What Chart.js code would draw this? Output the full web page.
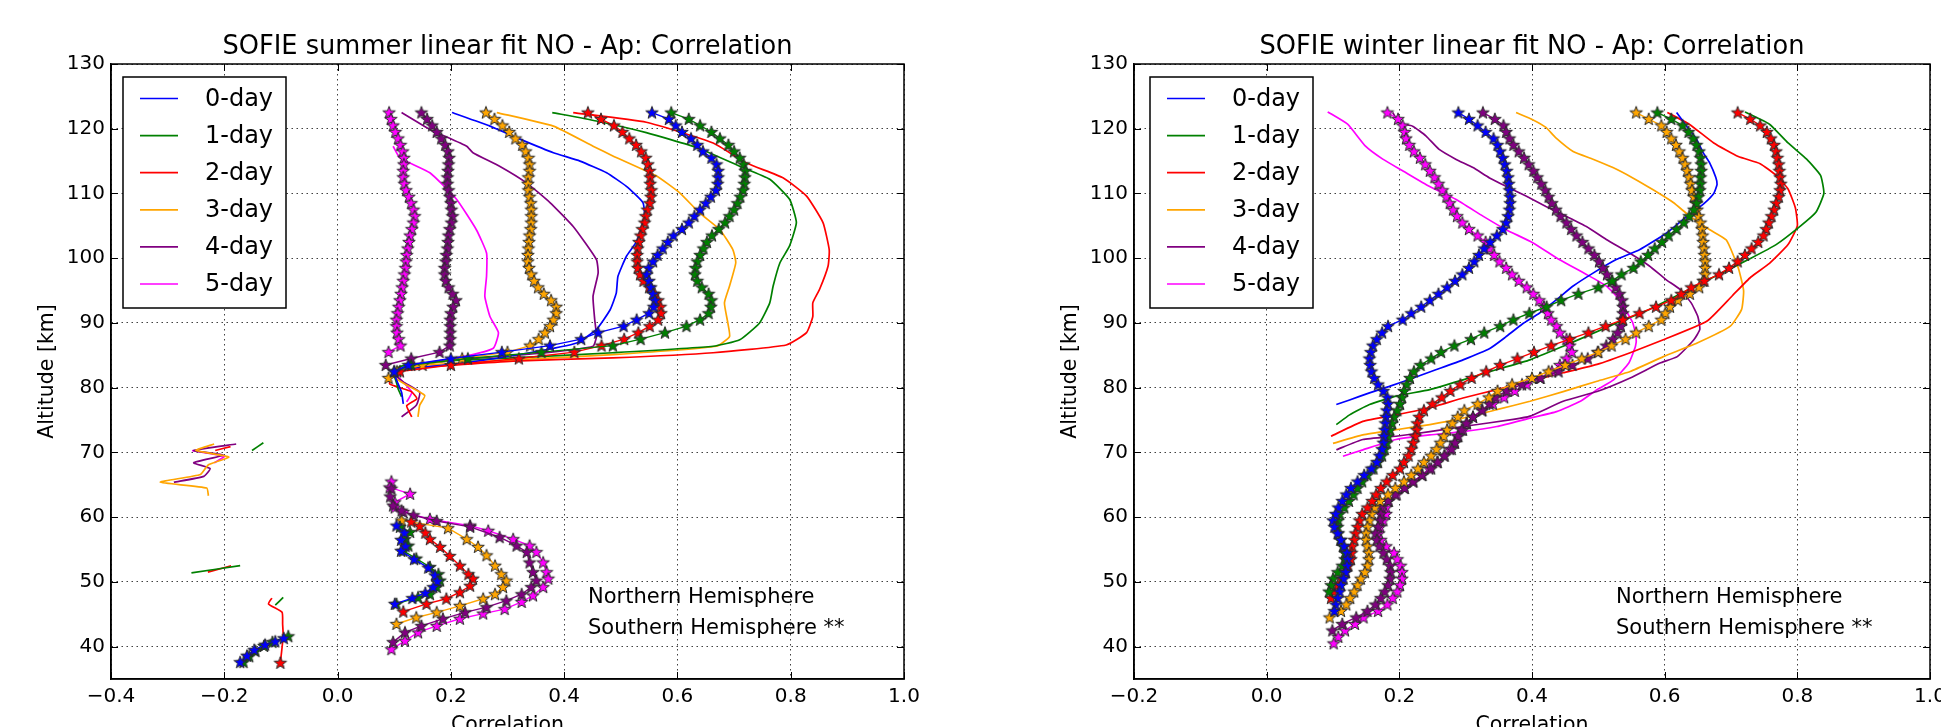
<!DOCTYPE html>
<html>
<head>
<meta charset="utf-8">
<script src="https://cdn.jsdelivr.net/npm/chart.js@4.4.1/dist/chart.umd.min.js"></script>
<style>
  html, body { margin: 0; padding: 0; background: #fff; overflow: hidden; }
  #wrap { position: relative; width: 1941px; height: 727px; overflow: hidden; }
  .panel { position: absolute; top: 0; }
</style>
</head>
<body>
<div id="wrap">
  <div class="panel" style="left:0px"><canvas id="summer" width="970" height="760"></canvas></div>
  <div class="panel" style="left:1023px"><canvas id="winter" width="948" height="760"></canvas></div>
</div>
<script>
// ---- labels / ticks ----
const dayLabels = ['0-day', '1-day', '2-day', '3-day', '4-day', '5-day'];
const dayColors = ['#0000ff', '#008000', '#ff0000', '#ffa500', '#800080', '#ff00ff'];
const altTicks = [40, 50, 60, 70, 80, 90, 100, 110, 120, 130];
const summerXTicks = [-0.4, -0.2, 0.0, 0.2, 0.4, 0.6, 0.8, 1.0];
const winterXTicks = [-0.2, 0.0, 0.2, 0.4, 0.6, 0.8, 1.0];

// ---- summer: Southern Hemisphere (stars), upper part, 1 km grid ----
const altSummer = [122.5, 121.5, 120.5, 119.5, 118.5, 117.5, 116.5, 115.5, 114.5, 113.5,
  112.5, 111.5, 110.5, 109.5, 108.5, 107.5, 106.5, 105.5, 104.5, 103.5,
  102.5, 101.5, 100.5, 99.5, 98.5, 97.5, 96.5, 95.5, 94.5, 93.5,
  92.5, 91.5, 90.5, 89.5, 88.5, 87.5, 86.5, 85.5, 84.5, 83.5,
  82.5, 81.5];
const sumStar0 = [0.555, 0.585, 0.597, 0.608, 0.624, 0.635, 0.645, 0.66, 0.669, 0.672,
  0.672, 0.671, 0.668, 0.659, 0.65, 0.64, 0.63, 0.62, 0.608, 0.593,
  0.583, 0.574, 0.565, 0.557, 0.549, 0.546, 0.55, 0.553, 0.557, 0.56,
  0.558, 0.55, 0.528, 0.505, 0.46, 0.43, 0.375, 0.29, 0.2, 0.125,
  0.1];
const sumStar1 = [0.589, 0.62, 0.64, 0.66, 0.675, 0.69, 0.70, 0.71, 0.717, 0.72,
  0.719, 0.718, 0.716, 0.711, 0.706, 0.70, 0.692, 0.684, 0.673, 0.661,
  0.652, 0.646, 0.64, 0.635, 0.632, 0.631, 0.635, 0.643, 0.655, 0.66,
  0.659, 0.655, 0.64, 0.616, 0.578, 0.535, 0.486, 0.36, 0.23, 0.13,
  0.1];
const sumStar2 = [0.442, 0.465, 0.488, 0.503, 0.515, 0.527, 0.536, 0.544, 0.548, 0.551,
  0.552, 0.552, 0.554, 0.553, 0.551, 0.547, 0.544, 0.542, 0.538, 0.535,
  0.532, 0.53, 0.529, 0.529, 0.53, 0.534, 0.54, 0.55, 0.56, 0.566,
  0.57, 0.571, 0.566, 0.551, 0.531, 0.506, 0.466, 0.418, 0.32, 0.2,
  0.11];
const sumStar3 = [0.262, 0.277, 0.291, 0.303, 0.314, 0.326, 0.332, 0.337, 0.339, 0.339,
  0.337, 0.336, 0.337, 0.339, 0.341, 0.342, 0.342, 0.342, 0.341, 0.339,
  0.338, 0.337, 0.336, 0.336, 0.338, 0.342, 0.347, 0.354, 0.364, 0.377,
  0.386, 0.386, 0.381, 0.375, 0.366, 0.355, 0.34, 0.30, 0.22, 0.15,
  0.105, 0.09];
const sumStar4 = [0.148, 0.158, 0.167, 0.175, 0.183, 0.19, 0.195, 0.197, 0.196, 0.195,
  0.194, 0.194, 0.196, 0.198, 0.2, 0.201, 0.203, 0.201, 0.198, 0.196,
  0.195, 0.194, 0.192, 0.191, 0.189, 0.189, 0.191, 0.196, 0.203, 0.209,
  0.204, 0.2, 0.199, 0.199, 0.199, 0.199, 0.198, 0.18, 0.13, 0.085];
const sumStar5 = [0.091, 0.094, 0.098, 0.102, 0.107, 0.111, 0.115, 0.117, 0.117, 0.116,
  0.116, 0.118, 0.121, 0.126, 0.13, 0.134, 0.136, 0.134, 0.131, 0.128,
  0.126, 0.124, 0.122, 0.121, 0.12, 0.118, 0.116, 0.114, 0.112, 0.11,
  0.108, 0.106, 0.104, 0.104, 0.105, 0.108, 0.111, 0.09];

// summer SH lower bulge, [correlation, altitude]
const sumLow0 = [[0.104, 58.7], [0.118, 57.6], [0.112, 56.5], [0.12, 55.5], [0.112, 54.8], [0.135, 53.5], [0.16, 52.2],
  [0.172, 51], [0.176, 50.1], [0.169, 49.2], [0.155, 48.3], [0.132, 47.5], [0.101, 46.6]];
const sumLow1 = [[0.11, 58.5], [0.128, 57.7], [0.119, 56.6], [0.125, 55.6], [0.116, 54.8], [0.139, 53.6], [0.163, 52.3],
  [0.178, 51.2], [0.181, 50.2], [0.175, 49.2], [0.163, 48.1], [0.142, 47.6], [0.104, 46.6]];
const sumLow2 = [[0.13, 59.3], [0.145, 58.6], [0.155, 57.6], [0.163, 56.6], [0.181, 55.4], [0.198, 54], [0.216, 52.5],
  [0.231, 51.2], [0.239, 50.5], [0.234, 49.4], [0.216, 48.4], [0.192, 47.4], [0.157, 46.6], [0.116, 45.4]];
const sumLow3 = [[0.113, 59.5], [0.195, 58.3], [0.228, 56.6], [0.248, 55.4], [0.263, 54.1], [0.278, 52.5], [0.289, 51.2],
  [0.298, 50.2], [0.292, 49.2], [0.278, 48.1], [0.257, 47.4], [0.216, 46.3], [0.175, 45.3], [0.139, 44.5], [0.104, 43.5]];
const sumLow4 = [[0.095, 64.4], [0.093, 63.2], [0.098, 61.8], [0.113, 61], [0.134, 60.3], [0.175, 59.4], [0.234, 58.5],
  [0.286, 56.9], [0.316, 55.6], [0.334, 54.6], [0.339, 53], [0.345, 51.5], [0.351, 50.2], [0.342, 49.2], [0.325, 48.1],
  [0.298, 47.1], [0.263, 46.1], [0.225, 45.3], [0.186, 44.3], [0.148, 43.2], [0.119, 42.2], [0.098, 40.7]];
const sumLow5 = [[0.095, 65.5], [0.092, 64.6], [0.128, 63.6], [0.101, 62.3], [0.101, 61.5], [0.116, 60.8], [0.163, 59.7],
  [0.234, 58.7], [0.266, 57.9], [0.31, 56.6], [0.339, 55.6], [0.351, 54.6], [0.363, 53], [0.369, 51.5], [0.372, 50.5],
  [0.363, 49.2], [0.345, 47.9], [0.325, 46.9], [0.295, 45.8], [0.257, 45.1], [0.216, 44.3], [0.175, 43.2], [0.142, 42.2],
  [0.119, 40.9], [0.095, 39.6]];
// summer SH bits near 40 km, negative correlation
const sumTail0 = [[-0.172, 37.6], [-0.16, 38.6], [-0.147, 39.5], [-0.128, 40.3], [-0.11, 40.8], [-0.095, 41.3]];
const sumTail1 = [[-0.166, 37.6], [-0.156, 38.5], [-0.145, 39.3], [-0.13, 40.1], [-0.115, 40.7], [-0.087, 41.6]];
const sumTail2 = [[-0.101, 37.5]];

// ---- summer: Northern Hemisphere (plain lines) ----
const sumNH0 = [[0.202, 122.5], [0.269, 120.4], [0.322, 118.4], [0.381, 116.3], [0.428, 115], [0.475, 113.2], [0.51, 111.1],
  [0.539, 108.6], [0.542, 106.5], [0.528, 102.6], [0.51, 100.3], [0.495, 97.2], [0.492, 94.6], [0.481, 92], [0.457, 89],
  [0.422, 86.9], [0.339, 85.4], [0.222, 83.8], [0.134, 83], [0.1, 82.3], [0.105, 81], [0.113, 79.3], [0.116, 77.5]];
const sumNH1 = [[0.379, 122.5], [0.457, 121.2], [0.545, 119.4], [0.634, 117.1], [0.71, 114.2], [0.763, 112.2], [0.798, 109.1],
  [0.81, 105.5], [0.798, 101.9], [0.781, 99.3], [0.769, 95.7], [0.763, 93.1], [0.745, 90], [0.71, 87.4], [0.663, 86.4],
  [0.486, 85.4], [0.31, 84.6], [0.192, 84.1], [0.11, 83.3], [0.1, 82], [0.105, 80.5], [0.107, 79.8], [0.113, 78.6]];
const sumNH2 = [[0.416, 122.5], [0.545, 121], [0.663, 117.8], [0.722, 114.7], [0.787, 112.4], [0.828, 109.6], [0.857, 105.5],
  [0.868, 101.3], [0.866, 98.8], [0.851, 95.2], [0.839, 93.1], [0.839, 91], [0.828, 88.5], [0.792, 86.6], [0.663, 85.4],
  [0.486, 84.6], [0.31, 84.1], [0.134, 83], [0.098, 82.3], [0.092, 80.6], [0.13, 79.4], [0.14, 78.3], [0.122, 77.2], [0.131, 75.5]];
const sumNH3 = [[0.281, 122.5], [0.381, 120.4], [0.451, 117.3], [0.486, 115.8], [0.563, 112.7], [0.604, 110.1], [0.639, 107],
  [0.675, 104.4], [0.698, 101.3], [0.703, 99.3], [0.692, 95.7], [0.683, 93.1], [0.689, 90], [0.692, 87.9], [0.669, 86.4],
  [0.486, 85.1], [0.31, 84.3], [0.134, 83.3], [0.098, 81.8], [0.12, 80.5], [0.154, 78.8], [0.145, 77.3], [0.142, 75.5]];
const sumNH4 = [[0.113, 122.5], [0.163, 119.9], [0.228, 117.3], [0.239, 116.3], [0.286, 114.2], [0.334, 111.6], [0.375, 108.6],
  [0.416, 104.9], [0.457, 99.8], [0.46, 97.7], [0.451, 94.1], [0.454, 90.5], [0.457, 87.9], [0.451, 86.4], [0.369, 85.4],
  [0.251, 84.6], [0.134, 83.5], [0.098, 82.3], [0.116, 80.9], [0.145, 79.3], [0.139, 77.3], [0.113, 75.5]];
const sumNH5 = [[0.098, 117.3], [0.11, 115.5], [0.163, 113.2], [0.21, 109.1], [0.245, 104.4], [0.263, 100.8], [0.263, 97.2],
  [0.26, 94.1], [0.269, 91], [0.284, 88.5], [0.275, 86.1], [0.222, 84.8], [0.134, 83.5], [0.098, 82.5], [0.11, 81.4],
  [0.131, 79.3], [0.122, 77.8]];
// summer NH short pieces
const sumBitGreen70 = [[-0.151, 70.3], [-0.131, 71.5]];
const sumBitGreen52 = [[-0.258, 51.4], [-0.172, 52.5]];
const sumBitRed52 = [[-0.229, 51.5], [-0.188, 52.5]];
const sumBitRed45 = [[-0.116, 47.5], [-0.122, 46.6], [-0.098, 45.3], [-0.097, 43.5], [-0.096, 41.6], [-0.101, 37.5]];
const sumBitGreen47 = [[-0.11, 46.4], [-0.096, 47.6]];
const sumBitRed70 = [[-0.216, 70.3], [-0.189, 70.9]];
const sumBitOrange = [[-0.218, 71.3], [-0.25, 70.3], [-0.192, 69.3], [-0.228, 68.1], [-0.242, 66.6], [-0.313, 65.4],
  [-0.231, 64.5], [-0.228, 63.3]];
const sumBitPurple = [[-0.179, 71.3], [-0.254, 70.3], [-0.201, 69.6], [-0.254, 68.4], [-0.225, 67.5], [-0.236, 66.3], [-0.289, 65.4]];
const sumBitMagenta = [[-0.257, 70.3], [-0.2, 69.4], [-0.218, 68.4]];

// ---- winter: Southern Hemisphere (stars), 1 km grid ----
const altWinter = [122.5, 121.5, 120.5, 119.5, 118.5, 117.5, 116.5, 115.5, 114.5, 113.5,
  112.5, 111.5, 110.5, 109.5, 108.5, 107.5, 106.5, 105.5, 104.5, 103.5,
  102.5, 101.5, 100.5, 99.5, 98.5, 97.5, 96.5, 95.5, 94.5, 93.5,
  92.5, 91.5, 90.5, 89.5, 88.5, 87.5, 86.5, 85.5, 84.5, 83.5,
  82.5, 81.5, 80.5, 79.5, 78.5, 77.5, 76.5, 75.5, 74.5, 73.5,
  72.5, 71.5, 70.5, 69.5, 68.5, 67.5, 66.5, 65.5, 64.5, 63.5,
  62.5, 61.5, 60.5, 59.5, 58.5, 57.5, 56.5, 55.5, 54.5, 53.5,
  52.5, 51.5, 50.5, 49.5, 48.5, 47.5, 46.5, 45.5, 44.5, 43.5,
  42.5, 41.5, 40.5];
const winStar0 = [0.289, 0.305, 0.318, 0.33, 0.342, 0.348, 0.352, 0.356, 0.359, 0.362,
  0.364, 0.365, 0.366, 0.367, 0.367, 0.366, 0.364, 0.361, 0.356, 0.347,
  0.337, 0.328, 0.32, 0.313, 0.305, 0.295, 0.284, 0.272, 0.259, 0.246,
  0.233, 0.218, 0.205, 0.183, 0.174, 0.166, 0.16, 0.157, 0.155, 0.156,
  0.158, 0.162, 0.168, 0.176, 0.182, 0.183, 0.181, 0.18, 0.179, 0.178,
  0.177, 0.176, 0.174, 0.17, 0.166, 0.158, 0.147, 0.137, 0.127, 0.12,
  0.114, 0.108, 0.104, 0.1, 0.102, 0.107, 0.112, 0.117, 0.121, 0.122,
  0.121, 0.119, 0.116, 0.112, 0.11, 0.107, 0.104, 0.102];
const winStar1 = [0.589, 0.61, 0.627, 0.636, 0.643, 0.648, 0.652, 0.654, 0.655, 0.655,
  0.654, 0.654, 0.653, 0.651, 0.648, 0.644, 0.637, 0.629, 0.618, 0.606,
  0.596, 0.585, 0.575, 0.564, 0.553, 0.535, 0.521, 0.5, 0.47, 0.444,
  0.422, 0.396, 0.372, 0.352, 0.328, 0.308, 0.283, 0.263, 0.248, 0.232,
  0.222, 0.216, 0.211, 0.207, 0.204, 0.201, 0.197, 0.192, 0.189, 0.186,
  0.183, 0.181, 0.178, 0.174, 0.168, 0.161, 0.152, 0.144, 0.137, 0.131,
  0.124, 0.117, 0.11, 0.108, 0.107, 0.108, 0.111, 0.115, 0.118, 0.118,
  0.114, 0.107, 0.1, 0.097, 0.094];
const winStar2 = [0.71, 0.729, 0.744, 0.754, 0.76, 0.765, 0.768, 0.77, 0.772, 0.773,
  0.774, 0.775, 0.774, 0.772, 0.768, 0.765, 0.761, 0.757, 0.753, 0.749,
  0.741, 0.731, 0.721, 0.71, 0.697, 0.682, 0.66, 0.64, 0.625, 0.61,
  0.587, 0.562, 0.537, 0.511, 0.485, 0.457, 0.429, 0.403, 0.378, 0.352,
  0.331, 0.309, 0.292, 0.277, 0.264, 0.25, 0.237, 0.23, 0.227, 0.226,
  0.224, 0.221, 0.218, 0.214, 0.207, 0.201, 0.19, 0.181, 0.172, 0.165,
  0.159, 0.152, 0.144, 0.14, 0.137, 0.134, 0.132, 0.129, 0.128, 0.127,
  0.123, 0.119, 0.113, 0.107, 0.101, 0.097];
const winStar3 = [0.557, 0.576, 0.595, 0.603, 0.61, 0.617, 0.622, 0.627, 0.631, 0.634,
  0.637, 0.639, 0.641, 0.644, 0.647, 0.649, 0.651, 0.654, 0.656, 0.657,
  0.658, 0.659, 0.66, 0.661, 0.661, 0.661, 0.658, 0.652, 0.638, 0.62,
  0.608, 0.601, 0.595, 0.576, 0.557, 0.541, 0.52, 0.5, 0.475, 0.45,
  0.425, 0.4, 0.37, 0.348, 0.335, 0.318, 0.298, 0.288, 0.28, 0.272,
  0.267, 0.262, 0.256, 0.248, 0.237, 0.228, 0.218, 0.207, 0.194, 0.183,
  0.171, 0.163, 0.158, 0.155, 0.152, 0.15, 0.15, 0.152, 0.154, 0.154,
  0.152, 0.148, 0.142, 0.137, 0.132, 0.126, 0.12, 0.112, 0.095];
const winStar4 = [0.326, 0.344, 0.357, 0.361, 0.366, 0.372, 0.38, 0.388, 0.395, 0.402,
  0.408, 0.414, 0.42, 0.425, 0.43, 0.436, 0.443, 0.452, 0.459, 0.467,
  0.476, 0.485, 0.494, 0.501, 0.507, 0.513, 0.52, 0.526, 0.532, 0.536,
  0.537, 0.537, 0.536, 0.534, 0.529, 0.522, 0.512, 0.499, 0.484, 0.461,
  0.44, 0.413, 0.385, 0.362, 0.345, 0.336, 0.325, 0.311, 0.301, 0.294,
  0.288, 0.284, 0.279, 0.268, 0.258, 0.248, 0.234, 0.221, 0.208, 0.194,
  0.183, 0.173, 0.172, 0.171, 0.168, 0.164, 0.166, 0.17, 0.176, 0.181,
  0.186, 0.187, 0.186, 0.183, 0.178, 0.172, 0.164, 0.152, 0.135, 0.114,
  0.099];
const winStar5 = [0.182, 0.198, 0.205, 0.208, 0.21, 0.215, 0.222, 0.231, 0.239, 0.246,
  0.253, 0.259, 0.265, 0.271, 0.276, 0.281, 0.287, 0.295, 0.305, 0.318,
  0.33, 0.336, 0.343, 0.351, 0.361, 0.37, 0.38, 0.392, 0.402, 0.411,
  0.418, 0.424, 0.429, 0.437, 0.442, 0.452, 0.457, 0.46, 0.452, 0.442,
  0.43, 0.412, 0.392, 0.374, 0.358, 0.341, 0.325, 0.311, 0.302, 0.296,
  0.289, 0.283, 0.276, 0.268, 0.257, 0.245, 0.235, 0.221, 0.208, 0.196,
  0.184, 0.18, 0.18, 0.176, 0.171, 0.169, 0.172, 0.18, 0.192, 0.197,
  0.202, 0.204, 0.204, 0.201, 0.197, 0.19, 0.182, 0.168, 0.146, 0.133,
  0.118, 0.108, 0.101];

// ---- winter: Northern Hemisphere (plain lines) ----
const winNH0 = [[0.618, 122.5], [0.633, 120.4], [0.648, 118.4], [0.658, 116.3], [0.668, 114.7], [0.677, 112.5], [0.679, 111.4],
  [0.674, 110], [0.66, 108.5], [0.645, 107.3], [0.628, 106], [0.603, 103.9], [0.562, 101.3], [0.527, 99.8], [0.492, 97.7],
  [0.462, 95.7], [0.437, 93.6], [0.411, 91.5], [0.385, 89.8], [0.36, 87.8], [0.337, 86.1], [0.296, 84.3], [0.256, 82.8],
  [0.221, 81.5], [0.185, 80.2], [0.155, 79.2], [0.125, 78.1], [0.105, 77.4]];
const winNH1 = [[0.721, 122.6], [0.758, 120.7], [0.786, 117.8], [0.814, 115.3], [0.835, 112.8], [0.84, 110], [0.828, 107.1],
  [0.805, 105], [0.768, 102.1], [0.73, 100], [0.674, 97.1], [0.62, 94.3], [0.575, 92], [0.53, 90.1], [0.49, 88.3],
  [0.447, 86.4], [0.397, 84.3], [0.347, 82.8], [0.296, 81.2], [0.246, 79.7], [0.195, 78.7], [0.155, 77.4], [0.125, 75.8],
  [0.105, 74.3]];
const winNH2 = [[0.604, 122.5], [0.637, 120.7], [0.674, 117.8], [0.711, 115.7], [0.744, 114.6], [0.768, 112.8], [0.786, 110.7],
  [0.797, 107.8], [0.8, 105], [0.786, 102.1], [0.758, 99.2], [0.73, 97.1], [0.702, 94.2], [0.664, 90.3], [0.598, 87.4],
  [0.548, 85.4], [0.498, 83.6], [0.447, 82.3], [0.397, 81], [0.347, 79.7], [0.296, 78.4], [0.246, 76.9], [0.195, 75.8],
  [0.145, 74.8], [0.097, 72.5]];
const winNH3 = [[0.376, 122.5], [0.401, 121.4], [0.421, 120.2], [0.436, 118.6], [0.462, 116.5], [0.492, 115.3], [0.522, 114],
  [0.552, 112.4], [0.582, 110.6], [0.613, 108.6], [0.638, 106.5], [0.668, 104.4], [0.693, 102.8], [0.711, 98.5], [0.719, 95],
  [0.716, 92.1], [0.699, 89.5], [0.649, 86.9], [0.598, 84.8], [0.548, 82.5], [0.498, 81], [0.447, 79.4], [0.397, 77.9],
  [0.347, 76.6], [0.296, 75.3], [0.246, 74.3], [0.195, 73.5], [0.145, 72.7], [0.1, 71.4]];
const winNH4 = [[0.19, 122.5], [0.2, 120.9], [0.22, 120.4], [0.24, 118.9], [0.26, 116.8], [0.285, 115.3], [0.311, 114],
  [0.336, 112.4], [0.361, 111.1], [0.391, 109.6], [0.421, 108], [0.451, 106.5], [0.482, 104.9], [0.512, 102.9], [0.547, 100.8],
  [0.577, 98.8], [0.602, 96.7], [0.623, 95.2], [0.64, 93.1], [0.65, 91], [0.653, 89], [0.644, 87.4], [0.619, 84.8],
  [0.593, 83.8], [0.548, 81.5], [0.498, 79.4], [0.447, 77.9], [0.397, 75.6], [0.372, 75.1], [0.296, 74], [0.246, 73.2],
  [0.195, 72.5], [0.145, 72], [0.105, 70.4]];
const winNH5 = [[0.092, 122.6], [0.122, 120.7], [0.149, 117.3], [0.175, 115.3], [0.205, 113.5], [0.245, 111.1], [0.285, 109.1],
  [0.326, 106.5], [0.361, 104.4], [0.401, 102.4], [0.441, 99.8], [0.482, 97.5], [0.512, 95.7], [0.532, 93.6], [0.544, 91.5],
  [0.552, 90], [0.557, 87.7], [0.556, 86.4], [0.546, 83.8], [0.523, 81.2], [0.498, 79.7], [0.473, 77.9], [0.437, 76.3],
  [0.397, 75.3], [0.347, 74], [0.296, 73.2], [0.246, 72.7], [0.195, 72], [0.145, 70.4], [0.115, 69.4]];

const FONT = '"DejaVu Sans", sans-serif';

// filled star marker with dark edge, like matplotlib '*'
function starImage(color) {
  const c = document.createElement('canvas');
  c.width = 16; c.height = 16;
  const g = c.getContext('2d');
  g.beginPath();
  for (let i = 0; i < 10; i++) {
    const r = i % 2 ? 2.7 : 6.6;
    const a = -Math.PI / 2 + i * Math.PI / 5;
    const px = 8 + r * Math.cos(a), py = 8.4 + r * Math.sin(a);
    if (i === 0) g.moveTo(px, py); else g.lineTo(px, py);
  }
  g.closePath();
  g.fillStyle = color;
  g.fill();
  g.lineWidth = 1;
  g.strokeStyle = '#2a2a2a';
  g.stroke();
  return c;
}
const stars = dayColors.map(starImage);

function onGrid(alts, vals) { return vals.map((v, i) => ({ x: v, y: alts[i] })); }
function fromPairs(p) { return p.map(([x, y]) => ({ x: x, y: y })); }

function solid(pairs, i) {
  return { data: fromPairs(pairs), showLine: true, borderColor: dayColors[i], borderWidth: 1.7,
    pointRadius: 0, tension: 0.15, fill: false };
}
function starred(points, i) {
  return { data: points, showLine: true, borderColor: dayColors[i], borderWidth: 1.4,
    pointStyle: stars[i], pointRadius: 6, tension: 0, fill: false };
}

// frame, inner ticks, title, legend box and the hemisphere note
const decor = {
  id: 'decor',
  afterDraw(chart, args, o) {
    const { ctx, chartArea: a, scales } = chart;
    const sx = scales.x, sy = scales.y;
    ctx.save();
    ctx.strokeStyle = '#000';
    ctx.lineWidth = 1;
    ctx.beginPath();
    sx.ticks.forEach(t => {
      const p = Math.round(sx.getPixelForValue(t.value)) + 0.5;
      ctx.moveTo(p, a.top); ctx.lineTo(p, a.top + 7);
      ctx.moveTo(p, a.bottom); ctx.lineTo(p, a.bottom - 7);
    });
    sy.ticks.forEach(t => {
      const p = Math.round(sy.getPixelForValue(t.value)) + 0.5;
      ctx.moveTo(a.left, p); ctx.lineTo(a.left + 7, p);
      ctx.moveTo(a.right, p); ctx.lineTo(a.right - 7, p);
    });
    ctx.stroke();
    ctx.lineWidth = 1.5;
    ctx.strokeRect(a.left, a.top, a.right - a.left, a.bottom - a.top);

    ctx.fillStyle = '#000';
    ctx.textAlign = 'center';
    ctx.textBaseline = 'middle';
    ctx.font = '25.7px ' + FONT;
    ctx.fillText(o.title, (a.left + a.right) / 2, 47);

    const bx = a.left + o.legendDx, by = a.top + 13;
    ctx.fillStyle = '#fff';
    ctx.fillRect(bx, by, 163, 231);
    ctx.strokeStyle = '#000';
    ctx.lineWidth = 1.5;
    ctx.strokeRect(bx, by, 163, 231);
    ctx.font = '24px ' + FONT;
    ctx.textAlign = 'left';
    dayLabels.forEach((lab, i) => {
      const ry = by + 21.5 + i * 37.1;
      ctx.strokeStyle = dayColors[i];
      ctx.lineWidth = 1.7;
      ctx.beginPath(); ctx.moveTo(bx + 17, ry); ctx.lineTo(bx + 55, ry); ctx.stroke();
      ctx.fillStyle = '#000';
      ctx.fillText(lab, bx + 82, ry + 1);
    });

    ctx.font = '21px ' + FONT;
    ctx.fillText('Northern Hemisphere', a.left + o.noteDx, a.top + 534);
    ctx.fillText('Southern Hemisphere **', a.left + o.noteDx, a.top + 565);
    ctx.restore();
  }
};

function buildChart(id, datasets, xMin, xTicks, opts) {
  const GRID = 'rgba(0,0,0,0.75)';
  return new Chart(document.getElementById(id), {
    type: 'scatter',
    data: { datasets: datasets },
    options: {
      responsive: false,
      animation: false,
      events: [],
      layout: { padding: { left: 31, top: 64, right: opts.padRight, bottom: 18 } },
      plugins: { legend: { display: false }, tooltip: { enabled: false }, decor: opts },
      scales: {
        x: {
          type: 'linear', min: xMin, max: 1.0,
          afterBuildTicks: s => { s.ticks = xTicks.map(v => ({ value: v })); },
          afterFit: s => { s.height = 63; },
          grid: { color: GRID, lineWidth: 1, drawTicks: false },
          border: { display: true, color: '#000', width: 1.5, dash: [1.5, 3.5] },
          ticks: { padding: 6, color: '#000', font: { family: FONT, size: 20 }, maxRotation: 0, autoSkip: false,
            callback: v => v.toFixed(1).replace('-', '\u2212') },
          title: { display: true, text: 'Correlation', color: '#000', font: { family: FONT, size: 20.5 },
            padding: { top: 4, bottom: 4 } }
        },
        y: {
          type: 'linear', min: 35, max: 130,
          afterBuildTicks: s => { s.ticks = altTicks.map(v => ({ value: v })); },
          afterFit: s => { s.width = 80; },
          grid: { color: GRID, lineWidth: 1, drawTicks: false },
          border: { display: true, color: '#000', width: 1.5, dash: [1.5, 3.5] },
          ticks: { padding: 6, color: '#000', font: { family: FONT, size: 20 }, callback: v => String(v) },
          title: { display: true, text: 'Altitude [km]', color: '#000', font: { family: FONT, size: 20.5 },
            padding: { top: 4, bottom: 4 } }
        }
      }
    },
    plugins: [decor]
  });
}

// first datasets are drawn on top, so the starred ones go first
const summerSets = [
  ...[sumStar0, sumStar1, sumStar2, sumStar3, sumStar4, sumStar5].map((v, i) => starred(onGrid(altSummer, v), i)),
  ...[sumLow0, sumLow1, sumLow2, sumLow3, sumLow4, sumLow5].map((p, i) => starred(fromPairs(p), i)),
  ...[sumTail0, sumTail1, sumTail2].map((p, i) => starred(fromPairs(p), i)),
  ...[sumNH0, sumNH1, sumNH2, sumNH3, sumNH4, sumNH5].map((p, i) => solid(p, i)),
  solid(sumBitGreen70, 1), solid(sumBitGreen52, 1), solid(sumBitRed52, 2), solid(sumBitRed45, 2),
  solid(sumBitGreen47, 1), solid(sumBitRed70, 2), solid(sumBitOrange, 3), solid(sumBitPurple, 4),
  solid(sumBitMagenta, 5)
];
const winterSets = [
  ...[winStar0, winStar1, winStar2, winStar3, winStar4, winStar5].map((v, i) => starred(onGrid(altWinter, v), i)),
  ...[winNH0, winNH1, winNH2, winNH3, winNH4, winNH5].map((p, i) => solid(p, i))
];

buildChart('summer', summerSets, -0.4, summerXTicks,
  { title: 'SOFIE summer linear fit NO - Ap: Correlation', padRight: 66, legendDx: 12, noteDx: 477 });
buildChart('winter', winterSets, -0.2, winterXTicks,
  { title: 'SOFIE winter linear fit NO - Ap: Correlation', padRight: 41, legendDx: 16, noteDx: 482 });
</script>
</body>
</html>
